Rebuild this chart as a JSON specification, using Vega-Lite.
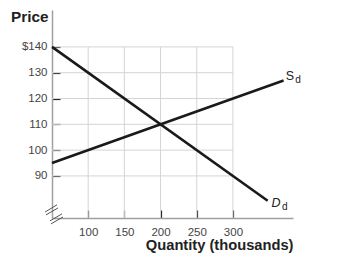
{
  "$schema": "https://vega.github.io/schema/vega-lite/v6.json",
  "width": 241,
  "height": 208,
  "autosize": "none",
  "padding": {"left": 52, "top": 10, "right": 59, "bottom": 45},
  "background": "white",
  "config": {"view": {"stroke": null}, "font": "Liberation Sans"},
  "datasets": {
    "curves": [
      {"curve": "D", "q": 50, "p": 140},
      {"curve": "D", "q": 348, "p": 80.4},
      {"curve": "S", "q": 50, "p": 95},
      {"curve": "S", "q": 370, "p": 127}
    ],
    "vgrid": [
      {"q": 100, "p0": 73.7, "p1": 140},
      {"q": 150, "p0": 73.7, "p1": 140},
      {"q": 200, "p0": 73.7, "p1": 140},
      {"q": 250, "p0": 73.7, "p1": 140},
      {"q": 300, "p0": 73.7, "p1": 140}
    ],
    "hgrid": [
      {"p": 90, "q0": 50, "q1": 300},
      {"p": 100, "q0": 50, "q1": 300},
      {"p": 110, "q0": 50, "q1": 300},
      {"p": 120, "q0": 50, "q1": 300},
      {"p": 130, "q0": 50, "q1": 300},
      {"p": 140, "q0": 50, "q1": 300}
    ],
    "breaks": [
      {"q0": 40.3, "p0": 76.0, "q1": 56.9, "p1": 78.8},
      {"q0": 41.7, "p0": 74.9, "q1": 58.3, "p1": 77.6},
      {"q0": 47.2, "p0": 72.6, "q1": 63.8, "p1": 75.3},
      {"q0": 48.6, "p0": 71.4, "q1": 65.2, "p1": 74.1}
    ],
    "sLabel": [{"text": "S", "q": 378.7, "p": 128.8}],
    "dLabel": [{"text": "D", "q": 359.4, "p": 79.5}],
    "subLabels": [
      {"text": "d", "q": 389.8, "p": 127.2},
      {"text": "d", "q": 371.8, "p": 78.0}
    ]
  },
  "layer": [
    {
      "data": {"name": "vgrid"},
      "mark": {"type": "rule", "color": "#d4d4d4", "strokeWidth": 1},
      "encoding": {
        "x": {"field": "q", "type": "quantitative", "scale": {"domain": [50, 383], "nice": false, "zero": false},
          "axis": {"values": [100, 150, 200, 250, 300], "grid": false, "domainColor": "#a0a0a0", "domainWidth": 1.5, "tickColor": "#222", "tickSize": -8, "tickWidth": 1.2, "labelPadding": 16, "labelFontSize": 11.5, "labelColor": "#444", "labelFont": "Liberation Sans",
            "title": "Quantity (thousands)", "titleFontSize": 14.7, "titleFontWeight": "bold", "titleColor": "#222", "titleAnchor": "end", "titleAlign": "right", "titleBaseline": "middle", "titleX": 241, "titleY": 27}},
        "y": {"field": "p0", "type": "quantitative", "scale": {"domain": [73.7, 154.3], "nice": false, "zero": false},
          "axis": {"values": [90, 100, 110, 120, 130, 140], "grid": false, "domainColor": "#a0a0a0", "domainWidth": 1.5, "tickColor": "#222", "tickSize": -8, "tickWidth": 1.2, "labelPadding": 13, "labelFontSize": 11.5, "labelColor": "#444", "labelFont": "Liberation Sans",
            "labelExpr": "datum.value == 140 ? '$140' : datum.label",
            "title": "Price", "titleAngle": 0, "titleFontSize": 15.3, "titleFontWeight": "bold", "titleColor": "#222", "titleAlign": "right", "titleBaseline": "middle", "titleX": -4, "titleY": 6}},
        "y2": {"field": "p1"}
      }
    },
    {
      "data": {"name": "hgrid"},
      "mark": {"type": "rule", "color": "#d4d4d4", "strokeWidth": 1},
      "encoding": {
        "y": {"field": "p", "type": "quantitative"},
        "x": {"field": "q0", "type": "quantitative"},
        "x2": {"field": "q1"}
      }
    },
    {
      "data": {"name": "breaks"},
      "mark": {"type": "rule", "color": "#555", "strokeWidth": 1},
      "encoding": {
        "x": {"field": "q0", "type": "quantitative"},
        "y": {"field": "p0", "type": "quantitative"},
        "x2": {"field": "q1"},
        "y2": {"field": "p1"}
      }
    },
    {
      "data": {"name": "curves"},
      "mark": {"type": "line", "color": "#1a1a1a", "strokeWidth": 2.6},
      "encoding": {
        "x": {"field": "q", "type": "quantitative"},
        "y": {"field": "p", "type": "quantitative"},
        "detail": {"field": "curve"}
      }
    },
    {
      "data": {"name": "sLabel"},
      "mark": {"type": "text", "fontSize": 12.5, "color": "#222", "align": "center", "baseline": "middle"},
      "encoding": {
        "x": {"field": "q", "type": "quantitative"},
        "y": {"field": "p", "type": "quantitative"},
        "text": {"field": "text"}
      }
    },
    {
      "data": {"name": "dLabel"},
      "mark": {"type": "text", "fontSize": 12.5, "fontStyle": "italic", "color": "#222", "align": "center", "baseline": "middle"},
      "encoding": {
        "x": {"field": "q", "type": "quantitative"},
        "y": {"field": "p", "type": "quantitative"},
        "text": {"field": "text"}
      }
    },
    {
      "data": {"name": "subLabels"},
      "mark": {"type": "text", "fontSize": 10, "color": "#222", "align": "center", "baseline": "middle"},
      "encoding": {
        "x": {"field": "q", "type": "quantitative"},
        "y": {"field": "p", "type": "quantitative"},
        "text": {"field": "text"}
      }
    }
  ]
}
